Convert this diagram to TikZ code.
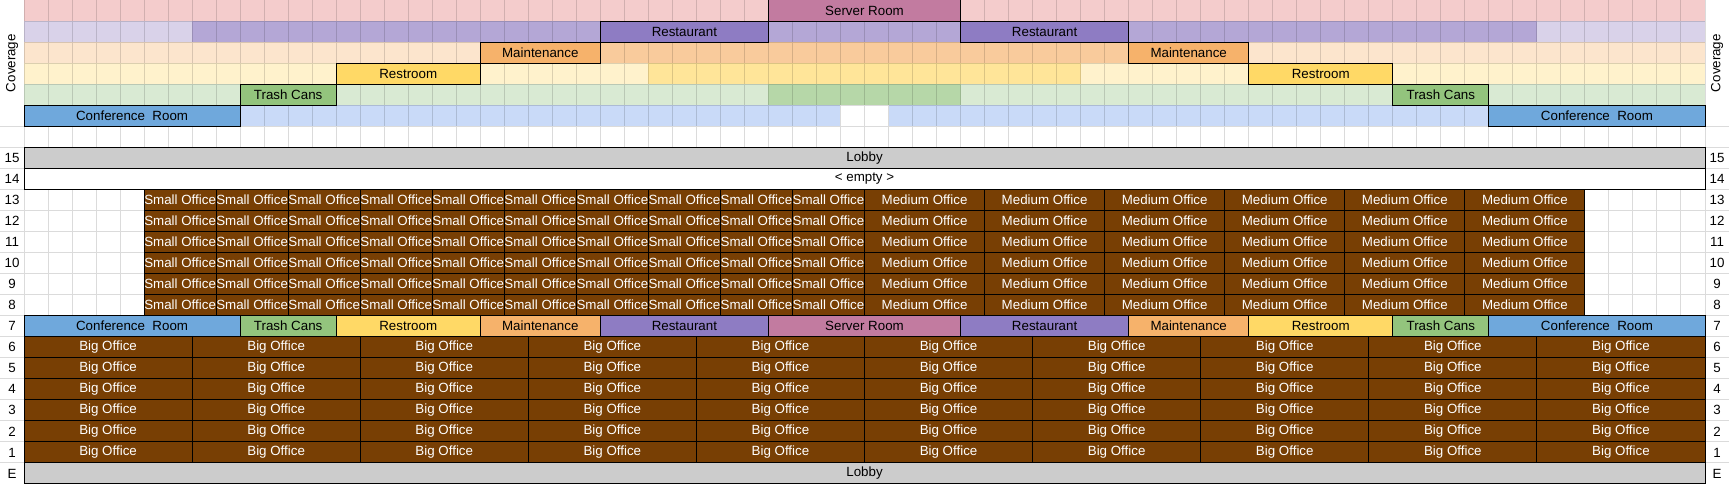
\documentclass[tikz,border=0pt]{standalone}
\usepackage{fontspec}
\setmainfont{Liberation Sans}
\usepackage{tikz}
\definecolor{pinkL}{HTML}{F4CCCC}
\definecolor{serverC}{HTML}{C27BA0}
\definecolor{purpleL}{HTML}{D9D2E9}
\definecolor{purpleM}{HTML}{B4A7D6}
\definecolor{restaurantC}{HTML}{8E7CC3}
\definecolor{orangeL}{HTML}{FCE5CD}
\definecolor{orangeM}{HTML}{F9CB9C}
\definecolor{maintC}{HTML}{F6B26B}
\definecolor{yellowL}{HTML}{FFF2CC}
\definecolor{yellowM}{HTML}{FFE599}
\definecolor{restroomC}{HTML}{FFD966}
\definecolor{greenL}{HTML}{D9EAD3}
\definecolor{greenM}{HTML}{B6D7A8}
\definecolor{trashC}{HTML}{93C47D}
\definecolor{blueL}{HTML}{C9DAF8}
\definecolor{confC}{HTML}{6FA8DC}
\definecolor{lobbyC}{HTML}{CCCCCC}
\definecolor{officeC}{HTML}{783F04}
\tikzset{
	roomline/.style={draw=black, line width=0.75pt},
	roomtext/.style={font=\fontsize{10}{12}\selectfont, inner sep=0pt},
	gridline/.style={draw=black, opacity=0.14, line width=0.75pt}
}
\def\room[#1](#2:#3:#4)#5#6{\draw[roomline,fill=#1] (#2+1,#4) rectangle (#3+1,#4+1); \node[roomtext] (#5) at ({(#2+#3)/2+1},{#4+0.5}) {#6};}
\def\office(#1:#2:#3)#4#5{\draw[roomline,fill=officeC] (#1+1,#3) rectangle (#2+1,#3+1); \node[roomtext,text=white] (#4) at ({(#1+#2)/2+1},{#3+0.5}) {#5};}

\begin{document}
\begin{tikzpicture}[x=18pt,y=-15.773pt]
				\useasboundingbox (0,0) rectangle (72,23);
				\fill[white] (0,0) rectangle (72,23);
				
				% coverage rows
				\fill[pinkL] (1,0) rectangle (71,1);
				\fill[purpleL] (1,1) rectangle (71,2);
				\fill[purpleM] (8,1) rectangle (64,2);
				\fill[orangeL] (1,2) rectangle (71,3);
				\fill[orangeM] (25,2) rectangle (47,3);
				\fill[yellowL] (1,3) rectangle (71,4);
				\fill[yellowM] (27,3) rectangle (45,4);
				\fill[greenL] (1,4) rectangle (71,5);
				\fill[greenM] (32,4) rectangle (40,5);
				\fill[blueL] (1,5) rectangle (35,6);
				\fill[blueL] (37,5) rectangle (71,6);
				
				% grid
				\draw[gridline] foreach \i in {1,...,71} {(\i,0) -- (\i,23)}
					foreach \j in {1,...,5} {(1,\j) -- (71,\j)}
					foreach \j in {6,...,22} {(0,\j) -- (72,\j)};
				
				\node[roomtext,rotate=90] (cov-l) at (0.5,3) {Coverage};
				\node[roomtext,rotate=90] (cov-r) at (71.5,3) {Coverage};
				
				\room[serverC](31:39:0){c-server}{Server Room};
				\room[restaurantC](24:31:1){c-rest-l}{Restaurant};
				\room[restaurantC](39:46:1){c-rest-r}{Restaurant};
				\room[maintC](19:24:2){c-maint-l}{Maintenance};
				\room[maintC](46:51:2){c-maint-r}{Maintenance};
				\room[restroomC](13:19:3){c-wc-l}{Restroom};
				\room[restroomC](51:57:3){c-wc-r}{Restroom};
				\room[trashC](9:13:4){c-trash-l}{Trash Cans};
				\room[trashC](57:61:4){c-trash-r}{Trash Cans};
				\room[confC](0:9:5){c-conf-l}{Conference\ \ Room};
				\room[confC](61:70:5){c-conf-r}{Conference\ \ Room};
				
				% floors
				\room[lobbyC](0:70:7){lobby-top}{Lobby};
				\room[white](0:70:8){empty}{< empty >};
				
				\foreach \r in {9,...,14} {
					\foreach \i in {0,...,9} {
						\pgfmathtruncatemacro\a{5+3*\i}
						\pgfmathtruncatemacro\b{8+3*\i}
						\office(\a:\b:\r){small-\r-\i}{Small Office};
					}
					\foreach \i in {0,...,5} {
						\pgfmathtruncatemacro\a{35+5*\i}
						\pgfmathtruncatemacro\b{40+5*\i}
						\office(\a:\b:\r){medium-\r-\i}{Medium Office};
					}
				}
				
				\room[confC](0:9:15){conf-l}{Conference\ \ Room};
				\room[trashC](9:13:15){trash-l}{Trash Cans};
				\room[restroomC](13:19:15){wc-l}{Restroom};
				\room[maintC](19:24:15){maint-l}{Maintenance};
				\room[restaurantC](24:31:15){rest-l}{Restaurant};
				\room[serverC](31:39:15){server}{Server Room};
				\room[restaurantC](39:46:15){rest-r}{Restaurant};
				\room[maintC](46:51:15){maint-r}{Maintenance};
				\room[restroomC](51:57:15){wc-r}{Restroom};
				\room[trashC](57:61:15){trash-r}{Trash Cans};
				\room[confC](61:70:15){conf-r}{Conference\ \ Room};
				
				\foreach \r in {16,...,21} {
					\foreach \i in {0,...,9} {
						\pgfmathtruncatemacro\a{7*\i}
						\pgfmathtruncatemacro\b{7*\i+7}
						\office(\a:\b:\r){big-\r-\i}{Big Office};
					}
				}
				
				\room[lobbyC](0:70:22){lobby-e}{Lobby};
				
				% floor numbers
				\foreach \t [count=\r from 7] in {15,14,13,12,11,10,9,8,7,6,5,4,3,2,1,E} {
					\node[roomtext] (num-l-\r) at (0.5,\r+0.5) {\t};
					\node[roomtext] (num-r-\r) at (71.5,\r+0.5) {\t};
				}
			\end{tikzpicture}
\end{document}
